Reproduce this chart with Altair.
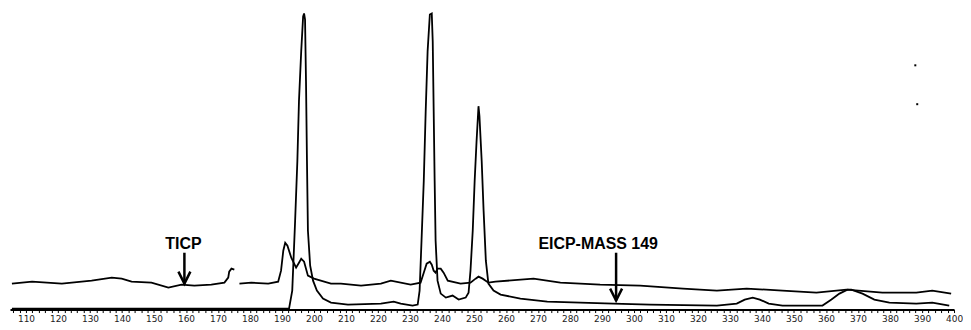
import altair as alt
import pandas as pd

# ---- data (scan number, relative intensity) ----
tic_a_scan = [105.6, 111.9, 121.2, 130.5, 136.8, 139.9, 143.0, 149.2, 154.5, 158.6,
              162.6, 167.9, 172.0, 173.2, 173.5, 174.2, 175.1]
tic_a_val = [26, 28, 26, 29, 32, 31, 28, 27, 22, 25,
             24, 25, 27, 32, 38, 41, 40]

tic_b_scan = [176.7, 180.4, 185.7, 188.8, 189.7, 190.4, 191.0, 191.7, 192.9, 194.4,
              195.3, 196.0, 196.9, 198.1, 200.0, 205.3, 208.4, 214.7, 220.9, 224.0,
              230.2, 233.3, 234.3, 235.2, 236.2, 236.8, 237.4, 238.0, 238.6, 239.6,
              240.5, 241.8, 245.8, 248.9, 250.5, 251.4, 252.7, 254.5, 256.7, 268.6,
              277.0, 289.4, 301.9, 315.3, 325.9, 335.2, 346.4, 357.0, 366.4, 377.6,
              388.2, 393.2, 399.1]
tic_b_val = [26, 27, 26, 28, 39, 59, 67, 64, 52, 42,
             47, 51, 48, 34, 31, 26, 26, 24, 26, 29,
             25, 27, 37, 46, 48, 45, 39, 37, 41, 41,
             37, 29, 26, 27, 31, 33, 31, 27, 28, 31,
             27, 25, 24, 21, 19, 21, 19, 17, 20, 17,
             17, 19, 16]

eicp_scan = [105.6, 149.2, 192.2, 193.2, 194.1, 194.8, 195.3, 196.0, 196.6, 196.9,
             197.2, 197.5, 197.8, 198.1, 198.8, 199.7, 200.9, 202.8, 205.3, 210.6,
             220.9, 224.9, 227.1, 230.8, 232.4, 233.0, 233.6, 234.3, 234.9, 235.5,
             236.2, 236.8, 237.1, 237.4, 237.7, 238.0, 238.6, 239.6, 241.2, 243.3,
             245.2, 247.4, 248.3, 248.9, 249.6, 250.2, 250.8, 251.4, 251.7, 252.4,
             253.0, 253.7, 254.5, 256.1, 258.3, 264.5, 272.9, 283.2, 293.5, 305.0,
             325.9, 332.1, 334.6, 337.1, 339.3, 342.1, 346.4, 358.9, 361.7, 364.2,
             366.7, 367.9, 371.4, 375.1, 379.8, 388.2, 393.2, 398.5]
eicp_val = [1, 1, 1, 19, 89, 149, 209, 259, 294, 297,
            291, 229, 149, 79, 44, 29, 19, 11, 7, 5,
            6, 8, 6, 4, 5, 19, 69, 129, 199, 259,
            296, 297, 269, 199, 129, 69, 29, 16, 12, 14,
            10, 12, 17, 39, 79, 129, 169, 204, 194, 149,
            99, 49, 26, 19, 15, 11, 8, 7, 6, 5,
            4, 6, 10, 12, 10, 6, 4, 4, 10, 16,
            20, 20, 16, 10, 7, 6, 7, 4]

label_scans = [110, 120, 130, 140, 150, 160, 170, 180, 190, 200,
               210, 220, 230, 240, 250, 260, 270, 280, 290, 300,
               310, 320, 330, 340, 350, 360, 370, 380, 390, 400]
minor_step = 2

note_text = ["TICP", "EICP-MASS 149"]
note_scan = [159.2, 288.8]
note_val = [66, 66]

arrow_scan = [159.5, 294.4]
arrow_top = [57, 57]
arrow_tip = [26, 9]

speck_scan = [387.9, 388.5]
speck_val = [245, 206]

# ---- tables ----
rows = []
for i, (s, v) in enumerate(zip(tic_a_scan, tic_a_val)):
    rows.append({"seg": "tic_a", "scan": s, "val": v, "idx": i})
for i, (s, v) in enumerate(zip(tic_b_scan, tic_b_val)):
    rows.append({"seg": "tic_b", "scan": s, "val": v, "idx": i})
for i, (s, v) in enumerate(zip(eicp_scan, eicp_val)):
    rows.append({"seg": "eicp", "scan": s, "val": v, "idx": i})
lines_df = pd.DataFrame(rows)

notes_df = pd.DataFrame({"scan": note_scan, "val": note_val, "text": note_text})
arrows_df = pd.DataFrame({"scan": arrow_scan, "top": arrow_top, "tip": arrow_tip})
specks_df = pd.DataFrame({"scan": speck_scan, "val": speck_val})

tick_values = list(range(106, 401, minor_step))
label_expr = ("indexof([" + ",".join(str(v) for v in label_scans) +
              "], datum.value) >= 0 ? format(datum.value, 'd') : ''")

xscale = alt.Scale(domain=[105, 400], nice=False, zero=False)
yscale = alt.Scale(domain=[0, 300], nice=False, zero=True)

x_axis = alt.Axis(
    values=tick_values,
    labelExpr=label_expr,
    tickSize=3, tickColor="black", tickWidth=1,
    domainColor="black", domainWidth=2,
    labelFontSize=9, labelColor="#222222", labelFont="DejaVu Sans",
    labelPadding=2, grid=False, title=None, labelOverlap=False, labelFlush=False,
)

lines = alt.Chart(lines_df).mark_line(color="black", strokeWidth=1.8).encode(
    y=alt.Y("val:Q", scale=yscale, axis=None),
    detail="seg:N",
    order="idx:Q",
)

notes = alt.Chart(notes_df).mark_text(
    font="Liberation Sans", fontWeight="bold", fontSize=16,
    align="center", baseline="middle", color="black",
).encode(y=alt.Y("val:Q", scale=yscale, axis=None), text="text:N")

shafts = alt.Chart(arrows_df).mark_rule(color="black", strokeWidth=2.5).encode(
    y=alt.Y("top:Q", scale=yscale, axis=None), y2="tip:Q"
)

heads = alt.Chart(arrows_df).mark_point(
    shape="M -1 -2 L 0 0 L 1 -2", filled=False, strokeWidth=2.5, size=144,
    color="black", opacity=1,
).encode(y=alt.Y("tip:Q", scale=yscale, axis=None))

specks = alt.Chart(specks_df).mark_square(size=4, color="black", opacity=1).encode(
    y=alt.Y("val:Q", scale=yscale, axis=None)
)

chart = (
    alt.layer(lines, shafts, heads, notes, specks)
    .encode(x=alt.X("scan:Q", scale=xscale, axis=x_axis))
    .properties(width=947, height=300, padding={"left": 0, "top": 1, "right": 0, "bottom": 0},
                background="white")
    .configure_view(strokeWidth=0)
)

chart.save("out.html", embed_options={"renderer": "svg", "actions": False})
